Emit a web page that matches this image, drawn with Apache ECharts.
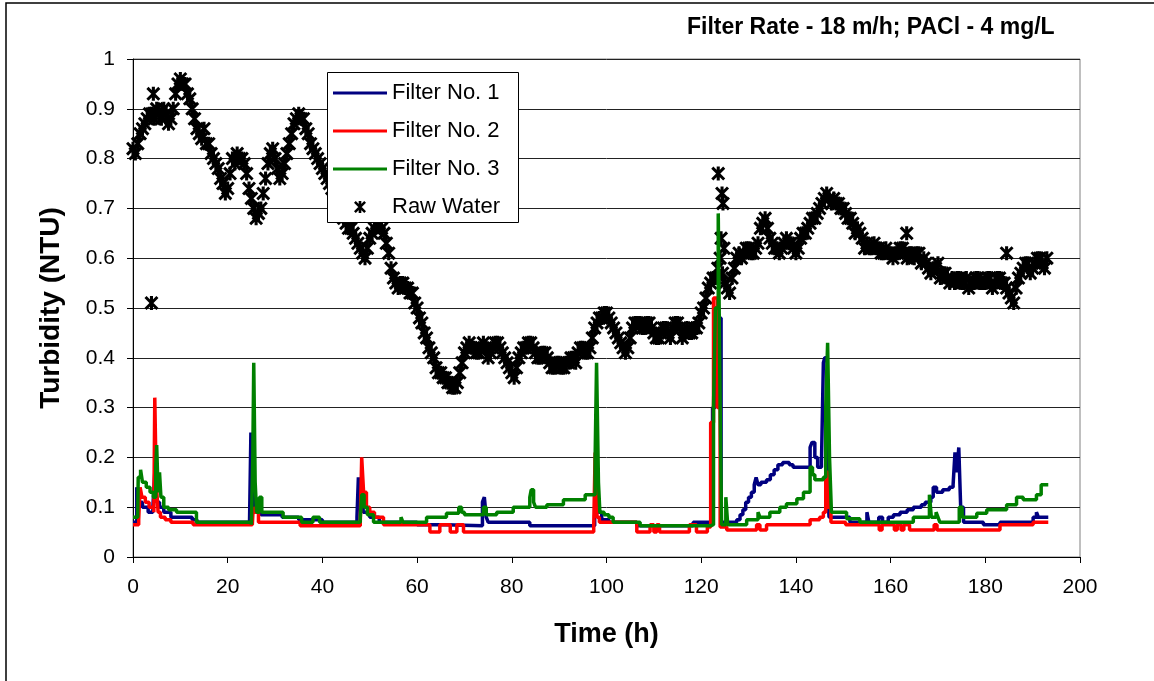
<!DOCTYPE html>
<html>
<head>
<meta charset="utf-8">
<title>Turbidity - Filter Rate 18 m/h</title>
<script src="https://cdn.jsdelivr.net/npm/echarts@6/dist/echarts.min.js"></script>
<style>
  html, body { margin: 0; padding: 0; background: #fff; }
  #chart { width: 1154px; height: 681px; }
</style>
</head>
<body>
<div id="chart"></div>
<script>
// raw water turbidity, one reading per hour starting at t = 0 h
var rawValues = [
  0.82, 0.83, 0.86, 0.88, 0.89, 0.90, 0.88, 0.89, 0.88, 0.93,
  0.96, 0.95, 0.92, 0.88, 0.85, 0.86, 0.83, 0.80, 0.78, 0.75,
  0.74, 0.80, 0.81, 0.80, 0.77, 0.72, 0.68, 0.70, 0.76, 0.81,
  0.80, 0.76, 0.79, 0.83, 0.87, 0.89, 0.88, 0.85, 0.82, 0.80,
  0.78, 0.76, 0.74, 0.72, 0.70, 0.67, 0.66, 0.64, 0.62, 0.60,
  0.64, 0.66, 0.67, 0.65, 0.61, 0.56, 0.54, 0.55, 0.54, 0.53,
  0.50, 0.47, 0.44, 0.41, 0.38, 0.37, 0.36, 0.35, 0.34, 0.37,
  0.41, 0.43, 0.42, 0.41, 0.43, 0.40, 0.42, 0.43, 0.41, 0.39,
  0.37, 0.38, 0.41, 0.42, 0.43, 0.41, 0.40, 0.41, 0.39, 0.38,
  0.39, 0.38, 0.39, 0.40, 0.41, 0.42, 0.41, 0.44, 0.47, 0.48,
  0.49, 0.47, 0.45, 0.43, 0.41, 0.44, 0.47, 0.47, 0.46, 0.47,
  0.45, 0.44, 0.46, 0.45, 0.46, 0.47, 0.44, 0.46, 0.45, 0.46,
  0.49, 0.52, 0.55, 0.56, 0.60, 0.55, 0.53, 0.58, 0.61, 0.61,
  0.62, 0.61, 0.63, 0.67, 0.66, 0.63, 0.62, 0.62, 0.64, 0.63,
  0.61, 0.64, 0.65, 0.67, 0.68, 0.70, 0.72, 0.72, 0.72, 0.71,
  0.70, 0.68, 0.67, 0.66, 0.64, 0.63, 0.62, 0.62, 0.61, 0.62,
  0.61, 0.61, 0.62, 0.61, 0.61, 0.60, 0.61, 0.60, 0.58, 0.58,
  0.59, 0.57, 0.56, 0.56, 0.56, 0.55, 0.56, 0.55, 0.56, 0.55,
  0.55, 0.56, 0.55, 0.56, 0.55, 0.53, 0.51, 0.56, 0.58, 0.59,
  0.58, 0.60, 0.59, 0.60
];
// readings at the half hours (t = 0.5, 1.5, ...), the other edge of the band
var rawHalf = [
  0.81, 0.85, 0.87, 0.89, 0.88, 0.89, 0.90, 0.87, 0.90, 0.95,
  0.95, 0.93, 0.90, 0.86, 0.84, 0.83, 0.81, 0.79, 0.76, 0.73,
  0.77, 0.79, 0.80, 0.79, 0.74, 0.70, 0.69, 0.73, 0.79, 0.82,
  0.78, 0.77, 0.81, 0.85, 0.88, 0.88, 0.86, 0.83, 0.81, 0.79,
  0.77, 0.75, 0.73, 0.71, 0.68, 0.66, 0.65, 0.63, 0.61, 0.62,
  0.65, 0.67, 0.66, 0.63, 0.58, 0.55, 0.55, 0.54, 0.53, 0.51,
  0.48, 0.45, 0.42, 0.40, 0.37, 0.36, 0.35, 0.34, 0.35, 0.39,
  0.42, 0.42, 0.41, 0.42, 0.42, 0.41, 0.43, 0.42, 0.40, 0.38,
  0.36, 0.40, 0.42, 0.43, 0.42, 0.40, 0.41, 0.40, 0.38, 0.39,
  0.38, 0.39, 0.40, 0.39, 0.42, 0.41, 0.42, 0.46, 0.48, 0.49,
  0.48, 0.46, 0.44, 0.42, 0.42, 0.46, 0.47, 0.46, 0.47, 0.46,
  0.44, 0.45, 0.46, 0.44, 0.47, 0.46, 0.45, 0.45, 0.46, 0.47,
  0.50, 0.54, 0.56, 0.58, 0.57, 0.54, 0.56, 0.60, 0.60, 0.62,
  0.61, 0.62, 0.66, 0.68, 0.64, 0.62, 0.61, 0.63, 0.63, 0.62,
  0.62, 0.65, 0.66, 0.68, 0.69, 0.71, 0.73, 0.71, 0.71, 0.70,
  0.69, 0.68, 0.65, 0.65, 0.62, 0.62, 0.63, 0.62, 0.61, 0.61,
  0.60, 0.61, 0.62, 0.60, 0.61, 0.61, 0.59, 0.59, 0.57, 0.58,
  0.56, 0.57, 0.55, 0.55, 0.56, 0.55, 0.54, 0.55, 0.56, 0.55,
  0.56, 0.54, 0.56, 0.55, 0.54, 0.52, 0.54, 0.57, 0.59, 0.57,
  0.59, 0.60, 0.58
];
// isolated raw water readings [time h, NTU]
var rawExtra = [
  [3.9, 0.51], [4.3, 0.93], [123.6, 0.77], [124.2, 0.64], [124.4, 0.73],
  [124.6, 0.71], [124.8, 0.62], [163.4, 0.65], [184.5, 0.61]
];

// filter effluent turbidity, [time h, NTU] at each change of reading
var filter1 = [
  [0, 0.07], [0.8, 0.14], [1.2, 0.11], [2, 0.10], [3.2, 0.09], [4.2, 0.10], [4.6, 0.17],
  [5.0, 0.11], [5.6, 0.10], [6.5, 0.09], [8, 0.08], [12.5, 0.075], [13.5, 0.07],
  [24.6, 0.065], [24.9, 0.25], [25.2, 0.15], [25.6, 0.10], [26.2, 0.09], [27, 0.085],
  [31.5, 0.08], [35, 0.075], [40, 0.07], [47.3, 0.08], [47.6, 0.16], [48.0, 0.11],
  [48.6, 0.09], [50, 0.08], [52, 0.07], [60, 0.065], [66, 0.063], [73.8, 0.11],
  [74.2, 0.12], [74.6, 0.08], [75, 0.07], [83.8, 0.063], [97.5, 0.08], [97.9, 0.20],
  [98.3, 0.09], [99, 0.075], [100.5, 0.07], [106.4, 0.063], [118.3, 0.07],
  [121.9, 0.065], [122.4, 0.30], [123, 0.50], [123.6, 0.48], [124.2, 0.07],
  [127.5, 0.075], [128.2, 0.085], [128.8, 0.095], [129.4, 0.11], [130, 0.12],
  [130.6, 0.13], [131.2, 0.145], [131.6, 0.16], [132, 0.145], [132.6, 0.15],
  [133.8, 0.155], [134.6, 0.165], [135.4, 0.175], [136.2, 0.185], [137.2, 0.19],
  [138.6, 0.185], [139.4, 0.18], [143, 0.22], [143.4, 0.23], [144, 0.20],
  [144.6, 0.18], [145.4, 0.19], [145.8, 0.39], [146.1, 0.40], [146.6, 0.15],
  [147, 0.08], [151.4, 0.07], [155, 0.09], [155.4, 0.07], [157.5, 0.08],
  [158.3, 0.07], [159.5, 0.08], [160.6, 0.085], [162, 0.09], [163.5, 0.095],
  [164.8, 0.10], [166.5, 0.105], [167.3, 0.11], [168.5, 0.12], [169, 0.14],
  [169.7, 0.13], [171, 0.135], [172.4, 0.14], [173.2, 0.145], [173.6, 0.21],
  [174, 0.17], [174.4, 0.22], [174.8, 0.10], [175.4, 0.07], [179.6, 0.065],
  [183.1, 0.07], [190.1, 0.08], [190.8, 0.09], [191.2, 0.08], [193.3, 0.08]
];
var filter2 = [
  [0, 0.065], [1.2, 0.075], [1.5, 0.14], [1.9, 0.12], [2.6, 0.11], [3.4, 0.10],
  [4.4, 0.09], [4.6, 0.32], [4.9, 0.15], [5.3, 0.09], [5.8, 0.08], [6.8, 0.075],
  [8, 0.07], [12.7, 0.065], [25.2, 0.065], [25.4, 0.10], [25.8, 0.09], [26.5, 0.07],
  [35.3, 0.063], [48, 0.07], [48.3, 0.20], [48.7, 0.13], [49.3, 0.10], [50, 0.09],
  [51, 0.08], [52.9, 0.065], [62.7, 0.05], [64.8, 0.065], [67, 0.05], [68.4, 0.065],
  [69.8, 0.05], [97.3, 0.06], [97.6, 0.21], [98, 0.08], [98.5, 0.07], [106.4, 0.05],
  [109.2, 0.065], [110, 0.05], [110.6, 0.065], [111.2, 0.05], [117.5, 0.065],
  [119, 0.05], [121.3, 0.06], [122, 0.27], [122.6, 0.52], [123.4, 0.30], [124, 0.06],
  [125.4, 0.054], [131.7, 0.065], [132.4, 0.054], [133.8, 0.065], [143, 0.075],
  [145, 0.08], [145.8, 0.09], [146.3, 0.17], [146.8, 0.10], [147.4, 0.07],
  [150.5, 0.065], [157.6, 0.054], [158.2, 0.065], [160.8, 0.054], [161.4, 0.065],
  [162.2, 0.054], [162.8, 0.065], [164, 0.054], [169.2, 0.065], [169.8, 0.054],
  [183.1, 0.065], [190.1, 0.07], [193.3, 0.07]
];
var filter3 = [
  [0, 0.08], [1.0, 0.085], [1.1, 0.16], [1.6, 0.175], [2.0, 0.15], [2.8, 0.14],
  [3.6, 0.13], [4.3, 0.12], [4.8, 0.18], [5.0, 0.225], [5.3, 0.13], [5.6, 0.17],
  [5.9, 0.12], [6.5, 0.10], [7.5, 0.095], [9.2, 0.09], [13.4, 0.07], [25.0, 0.065],
  [25.3, 0.20], [25.5, 0.39], [25.8, 0.15], [26.1, 0.09], [26.7, 0.12], [27.2, 0.09],
  [31.7, 0.08], [35.6, 0.07], [38, 0.08], [39.4, 0.07], [48, 0.08], [48.3, 0.125],
  [48.8, 0.10], [49.5, 0.085], [50.8, 0.07], [56.6, 0.08], [57, 0.07], [62, 0.08],
  [66.2, 0.088], [68.8, 0.10], [69.4, 0.09], [70, 0.085], [74, 0.10], [74.6, 0.085],
  [76.8, 0.09], [80.3, 0.10], [83.8, 0.12], [84.1, 0.135], [84.6, 0.11], [85, 0.10],
  [87.4, 0.105], [90.9, 0.115], [95.5, 0.125], [97.6, 0.20], [97.9, 0.39],
  [98.3, 0.15], [98.6, 0.09], [99.5, 0.085], [100.5, 0.08], [101.4, 0.07],
  [107.1, 0.063], [122, 0.065], [122.6, 0.30], [123.0, 0.50], [123.6, 0.69],
  [124.0, 0.30], [124.3, 0.065], [125.2, 0.12], [125.6, 0.065], [129.6, 0.075],
  [132, 0.09], [132.4, 0.08], [134.5, 0.09], [136.6, 0.10], [138, 0.107],
  [140.2, 0.117], [141.6, 0.13], [143, 0.18], [143.5, 0.165], [144, 0.155],
  [145.8, 0.16], [146.3, 0.30], [146.7, 0.43], [147.1, 0.20], [147.5, 0.09],
  [150.7, 0.077], [153.5, 0.07], [164.8, 0.08], [168.2, 0.125], [168.6, 0.08],
  [169.6, 0.09], [170, 0.08], [170.4, 0.07], [174.5, 0.10], [175.1, 0.08],
  [178.2, 0.088], [180.3, 0.095], [184.5, 0.105], [186.6, 0.12], [188, 0.115],
  [190.8, 0.125], [191.8, 0.145], [193.3, 0.145]
];

var seriesNames = ['Filter No. 1', 'Filter No. 2', 'Filter No. 3', 'Raw Water'];
var seriesColors = ['#000080', '#ff0000', '#008000', '#000000'];

// asterisk marker like the spreadsheet one
var starPath = 'path://M39 0L61 0L61 100L39 100Z M0 15L15 0L100 85L85 100Z M85 0L100 15L15 100L0 85Z';
var lineIcon = 'path://M0 0L100 0L100 6L0 6Z';

var rawData = rawValues.map(function (v, h) { return [h, v]; })
  .concat(rawHalf.map(function (v, h) { return [h + 0.5, v]; }))
  .concat(rawExtra);

function filterLine(name, data, color) {
  return {
    name: name,
    type: 'line',
    step: 'end',
    data: data,
    symbol: 'none',
    showSymbol: false,
    lineStyle: { width: 3.5, color: color },
    itemStyle: { color: color }
  };
}

var chart = echarts.init(document.getElementById('chart'));

var option = {
  animation: false,
  backgroundColor: '#fff',
  textStyle: { fontFamily: 'Liberation Sans, Arial, sans-serif' },
  title: {
    text: 'Filter Rate - 18 m/h; PACl - 4 mg/L',
    left: 682,
    top: 11,
    textStyle: { fontSize: 23, fontWeight: 'bold', color: '#000' }
  },
  grid: {
    left: 133,
    right: 74,
    top: 59,
    bottom: 124,
    show: true,
    borderColor: '#808080',
    borderWidth: 1
  },
  legend: {
    data: [
      { name: seriesNames[0], icon: lineIcon },
      { name: seriesNames[1], icon: lineIcon },
      { name: seriesNames[2], icon: lineIcon },
      { name: seriesNames[3], icon: starPath }
    ],
    orient: 'vertical',
    left: 327,
    top: 72,
    padding: [10, 10, 8, 6],
    itemWidth: 54,
    itemHeight: 12,
    itemGap: 16,
    z: 10,
    textStyle: { fontSize: 22, color: '#000' }
  },
  xAxis: {
    type: 'value',
    min: 0,
    max: 200,
    interval: 20,
    name: 'Time (h)',
    nameLocation: 'middle',
    nameGap: 64,
    nameTextStyle: { fontSize: 27, fontWeight: 'bold', color: '#000' },
    axisLine: { onZero: false, lineStyle: { color: '#000', width: 1 } },
    axisTick: { show: true, inside: false, length: 6, lineStyle: { color: '#000' } },
    axisLabel: { fontSize: 21, color: '#000', margin: 20 },
    splitLine: { show: false }
  },
  yAxis: {
    type: 'value',
    min: 0,
    max: 1,
    interval: 0.1,
    name: 'Turbidity (NTU)',
    nameLocation: 'middle',
    nameRotate: 90,
    nameGap: 68,
    nameTextStyle: { fontSize: 28, fontWeight: 'bold', color: '#000' },
    axisLine: { show: true, lineStyle: { color: '#000', width: 1 } },
    axisTick: { show: true, inside: false, length: 6, lineStyle: { color: '#000' } },
    axisLabel: { fontSize: 21, color: '#000', margin: 18 },
    splitLine: { show: true, lineStyle: { color: '#222', width: 1 } }
  },
  graphic: {
    elements: [
      {
        type: 'rect',
        z: -1,
        silent: true,
        shape: { x: 6, y: 3, width: 1300, height: 900 },
        style: { fill: 'none', stroke: '#000', lineWidth: 1.5 }
      },
      {
        type: 'rect',
        z: 5,
        silent: true,
        shape: { x: 327.5, y: 72.5, width: 191, height: 150 },
        style: { fill: '#fff', stroke: '#000', lineWidth: 1 }
      }
    ]
  },
  series: [
    filterLine(seriesNames[0], filter1, seriesColors[0]),
    filterLine(seriesNames[1], filter2, seriesColors[1]),
    filterLine(seriesNames[2], filter3, seriesColors[2]),
    {
      name: seriesNames[3],
      type: 'scatter',
      data: rawData,
      symbol: starPath,
      symbolSize: 14,
      itemStyle: { color: seriesColors[3], opacity: 1 }
    }
  ]
};

chart.setOption(option);
</script>
</body>
</html>
